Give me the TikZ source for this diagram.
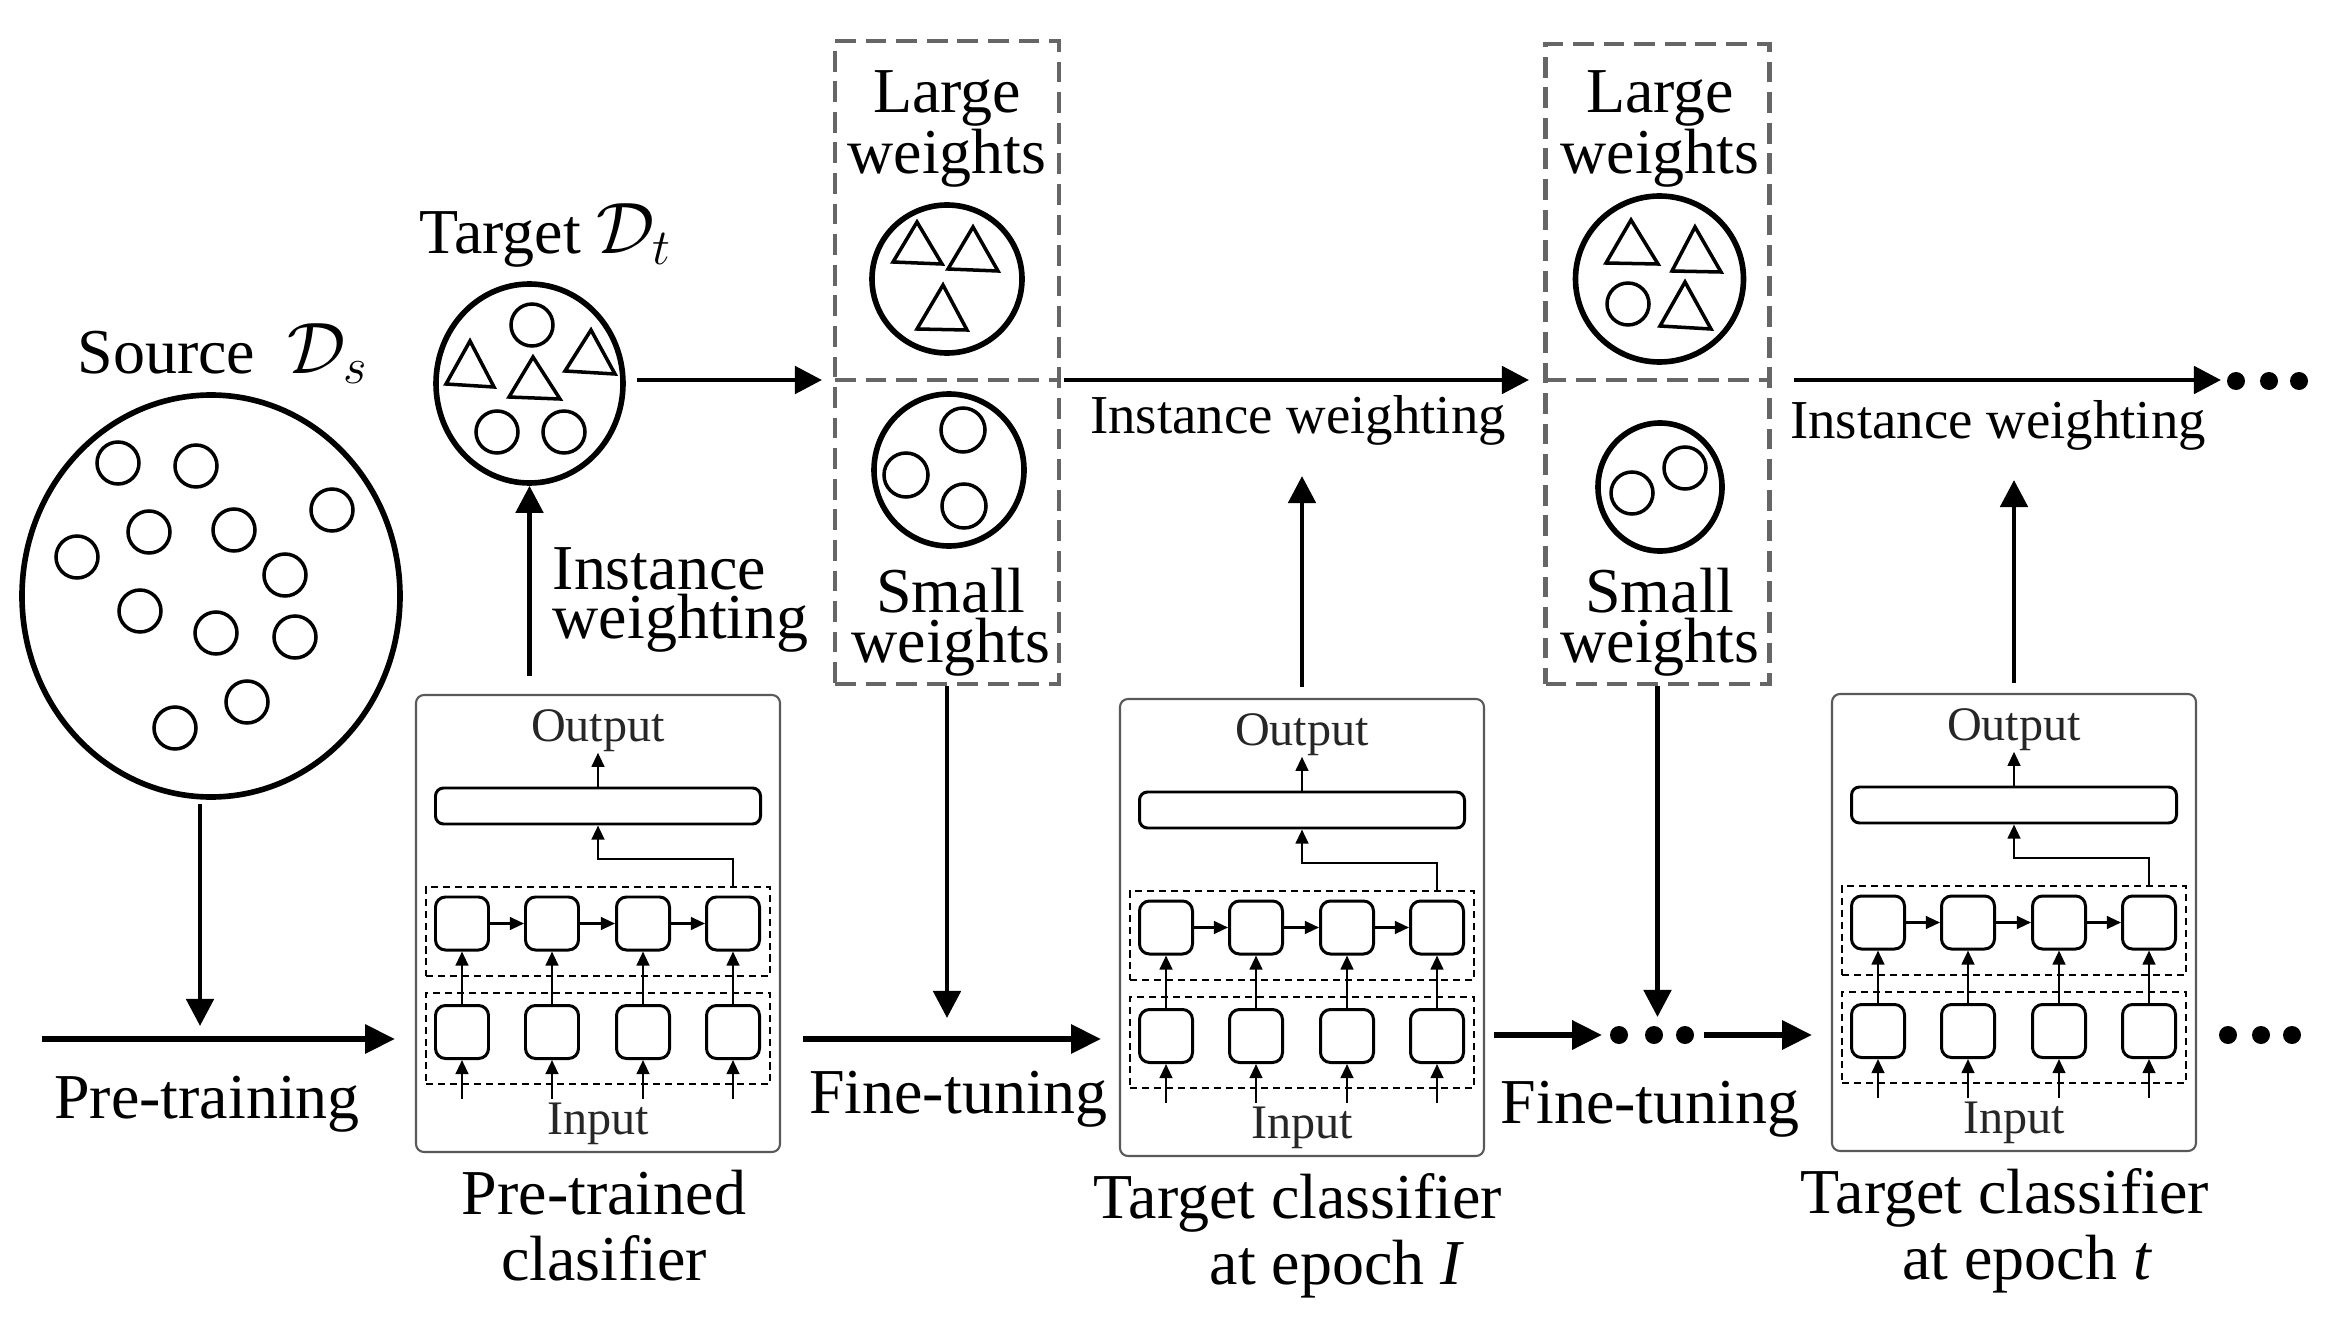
\documentclass[tikz,border=0pt]{standalone}
\usepackage{fontspec}
\setmainfont{Liberation Serif}
\usetikzlibrary{arrows.meta, positioning, shapes.geometric}

\begin{document}
\begin{tikzpicture}[
  every node/.style={inner sep=0pt, font=\fontsize{18.2}{21}\selectfont},
  arr/.style={line width=1.4pt, -{Triangle[length=7.7pt, width=7.7pt]}},
  arrB/.style={line width=1.7pt, -{Triangle[length=8.5pt, width=8pt]}},
  sarr/.style={line width=0.65pt, -{Triangle[length=4pt, width=3.6pt]}},
  bigc/.style={ellipse, draw, line width=1.6pt},
  item/.style={line width=1pt},
  wline/.style={draw=black!60, line width=1.4pt, dash pattern=on 5.9pt off 2.8pt},
  wbox/.style={wline, minimum width=2.24cm},
  clfbox/.style={draw=black!65, line width=0.6pt, rounded corners=0.08cm, minimum width=3.64cm, minimum height=4.57cm},
  fcbar/.style={draw, line width=0.85pt, rounded corners=0.08cm, minimum width=3.25cm, minimum height=0.36cm},
  cell/.style={draw, line width=0.85pt, rounded corners=0.1cm, minimum size=0.53cm},
  grp/.style={draw, line width=0.65pt, dash pattern=on 2pt off 1.4pt, minimum width=3.44cm, minimum height=0.89cm},
  io/.style={font=\fontsize{13.7}{16}\selectfont, text=black!85},
  twoL/.style={align=center, font=\fontsize{18.2}{17.6}\selectfont},
  twoS/.style={align=center, font=\fontsize{18.2}{14.2}\selectfont},
  lbl/.style={align=center, font=\fontsize{18.2}{18.8}\selectfont},
  iw/.style={font=\fontsize{15.6}{18}\selectfont}
]
  \useasboundingbox (0,0) rectangle (23.32,13.18);
  % source and target data
  \node[bigc, minimum width=3.78cm, minimum height=4.02cm] (src) at (2.11,7.22) {};
  \node[anchor=base] (srcLbl) at (2.23,9.45) {Source\hspace{0.5em}{\fontsize{21.7}{24}\selectfont$\mathcal{D}_s$}};
  \draw[item] (1.18,8.55) circle (0.21) (1.96,8.52) circle (0.21) (3.32,8.08) circle (0.21)
    (1.49,7.86) circle (0.21) (2.34,7.88) circle (0.21) (0.77,7.61) circle (0.21)
    (2.85,7.43) circle (0.21) (1.40,7.07) circle (0.21) (2.16,6.85) circle (0.21)
    (2.95,6.81) circle (0.21) (2.47,6.16) circle (0.21) (1.75,5.90) circle (0.21);
  \node[bigc, minimum width=1.87cm, minimum height=1.99cm] (tgt) at (5.295,9.345) {};
  \node[anchor=base] (tgtLbl) at (5.46,10.64) {Target {\fontsize{21.7}{24}\selectfont$\mathcal{D}_t$}};
  \draw[item] (5.32,9.93) circle (0.21) (4.97,8.86) circle (0.21) (5.64,8.86) circle (0.21);
  \draw[item] (4.70,9.77) -- (4.46,9.34) -- (4.94,9.31) -- cycle;
  \draw[item] (5.33,9.61) -- (5.09,9.21) -- (5.60,9.19) -- cycle;
  \draw[item] (5.91,9.88) -- (5.65,9.47) -- (6.15,9.44) -- cycle;
  \node[align=left, anchor=west, font=\fontsize{18.2}{14.2}\selectfont] (iwL) at (5.52,7.18) {Instance\\weighting};
  % weighted target data, epoch 1
  \node[wbox, minimum height=6.43cm] (wA) at (9.47,9.555) {};
  \coordinate (wAmid) at (8.35,9.38);
  \draw[wline] (wAmid) -- (wAmid -| wA.east);
  \node[twoL] (lgTxtA) at (9.47,11.89) {Large\\weights};
  \node[bigc, minimum width=1.50cm, minimum height=1.48cm] (lgA) at (9.47,10.39) {};
  \draw[item] (9.17,10.96) -- (8.93,10.56) -- (9.42,10.54) -- cycle;
  \draw[item] (9.73,10.91) -- (9.48,10.49) -- (9.98,10.47) -- cycle;
  \draw[item] (9.43,10.33) -- (9.17,9.89) -- (9.67,9.88) -- cycle;
  \node[bigc, minimum width=1.50cm, minimum height=1.52cm] (smA) at (9.49,8.48) {};
  \draw[item] (9.63,8.88) circle (0.22) (9.06,8.43) circle (0.22) (9.64,8.12) circle (0.22);
  \node[twoS] (smTxtA) at (9.51,6.96) {Small\\weights};
  % weighted target data, epoch t
  \node[wbox, minimum height=6.40cm] (wB) at (16.575,9.54) {};
  \coordinate (wBmid) at (15.45,9.38);
  \draw[wline] (wBmid) -- (wBmid -| wB.east);
  \node[twoL] (lgTxtB) at (16.60,11.89) {Large\\weights};
  \node[bigc, minimum width=1.68cm, minimum height=1.66cm] (lgB) at (16.595,10.39) {};
  \draw[item] (16.31,10.98) -- (16.06,10.55) -- (16.58,10.54) -- cycle;
  \draw[item] (16.95,10.91) -- (16.72,10.47) -- (17.21,10.46) -- cycle;
  \draw[item] (16.85,10.36) -- (16.60,9.92) -- (17.11,9.89) -- cycle;
  \draw[item] (16.28,10.14) circle (0.21);
  \node[bigc, minimum width=1.24cm, minimum height=1.28cm] (smB) at (16.60,8.31) {};
  \draw[item] (16.85,8.50) circle (0.21) (16.32,8.25) circle (0.21);
  \node[twoS] (smTxtB) at (16.60,6.96) {Small\\weights};
  % classifiers
  \foreach \c/\x/\y in {A/5.98/3.945, B/13.02/3.905, C/20.14/3.955} {
    \node[clfbox] (clf\c) at (\x,\y) {};
    \node[io] (out\c) at ([yshift=1.925cm]clf\c.center) {Output};
    \node[fcbar] (bar\c) at ([yshift=1.175cm]clf\c.center) {};
    \node[grp] (hid\c) at ([yshift=-0.08cm]clf\c.center) {};
    \node[grp, minimum height=0.91cm] (emb\c) at ([yshift=-1.15cm]clf\c.center) {};
    \node[io] (in\c) at ([yshift=-2.0cm]clf\c.center) {Input};
    \foreach \i/\dx in {1/-1.36, 2/-0.46, 3/0.45, 4/1.35} {
      \node[cell] (u\c\i) at ([xshift=\dx cm]clf\c.center) {};
      \node[cell] (l\c\i) at ([xshift=\dx cm, yshift=-1.085cm]clf\c.center) {};
      \draw[sarr] (l\c\i.north) -- (u\c\i.south);
      \draw[sarr] ([yshift=-0.385cm]l\c\i.south) -- (l\c\i.south);
    }
    \draw[sarr] (u\c1) -- (u\c2);
    \draw[sarr] (u\c2) -- (u\c3);
    \draw[sarr] (u\c3) -- (u\c4);
    \draw[sarr] (bar\c.north) -- (out\c.south);
    \draw[sarr] (u\c4 |- hid\c.north) -- ++(0,0.27) -| (bar\c.south);
  }
  \node[lbl, below=0.16cm of clfA, xshift=0.06cm] (labA) {Pre-trained\\clasifier};
  \node[lbl, below=0.16cm of clfB, xshift=-0.04cm] (labB) {Target classifier\\\hspace*{1.22em}at epoch \textit{I}};
  \node[lbl, below=0.16cm of clfC, xshift=-0.09cm] (labC) {Target classifier\\\hspace*{0.69em}at epoch \textit{t}};
  % connectors
  \coordinate (ptin) at (0.42,2.79);
  \coordinate (srcdn) at (2.00,2.92);
  \coordinate (dmL) at (16.02,2.83);
  \coordinate (dmR) at (17.04,2.83);
  \coordinate (dnA) at (9.47,3.00);
  \coordinate (dnB) at (16.575,3.01);
  \coordinate (upA) at (13.02,8.42);
  \coordinate (upB) at (20.14,8.38);
  \coordinate (iwEnd) at (22.21,9.38);
  \draw[arr, shorten <=0.04cm] (src.south -| srcdn) -- (srcdn);
  \draw[arrB, shorten >=0.2cm] (ptin) -- (ptin -| clfA.west);
  \draw[arrB, shorten <=0.22cm, shorten >=0.18cm] (clfA.east |- ptin) -- (clfB.west |- ptin);
  \draw[arrB, shorten <=0.09cm] (clfB.east |- dmL) -- (dmL);
  \draw[arrB, shorten >=0.19cm] (dmR) -- (dmR -| clfC.west);
  \draw[arr, shorten <=0.18cm] (clfA.north -| tgt) -- (tgt.south);
  \draw[arr, shorten <=0.11cm, shorten >=0.13cm] (tgt.east |- wAmid) -- (wAmid);
  \draw[arr, shorten <=0.03cm, shorten >=0.16cm] (wAmid -| wA.east) -- (wBmid);
  \draw[arr, shorten <=0.22cm] (wBmid -| wB.east) -- (iwEnd);
  \draw[arr] (wA.south) -- (dnA);
  \draw[arr] (wB.south) -- (dnB);
  \draw[arr, shorten <=0.11cm] (clfB.north) -- (upA);
  \draw[arr, shorten <=0.10cm] (clfC.north) -- (upB);
  \fill (22.36,9.37) circle (0.09) (22.69,9.37) circle (0.09) (22.99,9.37) circle (0.09);
  \fill (16.19,2.83) circle (0.09) (16.54,2.83) circle (0.09) (16.85,2.83) circle (0.09);
  \fill (22.28,2.83) circle (0.09) (22.61,2.83) circle (0.09) (22.92,2.83) circle (0.09);
  % labels
  \node[iw] (iwA) at (12.98,8.98) {Instance weighting};
  \node[iw] (iwB) at (19.98,8.93) {Instance weighting};
  \node[anchor=base] (ptTxt) at (2.07,2.00) {Pre-training};
  \node[anchor=base] (ftA) at (9.585,2.05) {Fine-tuning};
  \node[anchor=base] (ftB) at (16.50,1.95) {Fine-tuning};
\end{tikzpicture}
\end{document}
